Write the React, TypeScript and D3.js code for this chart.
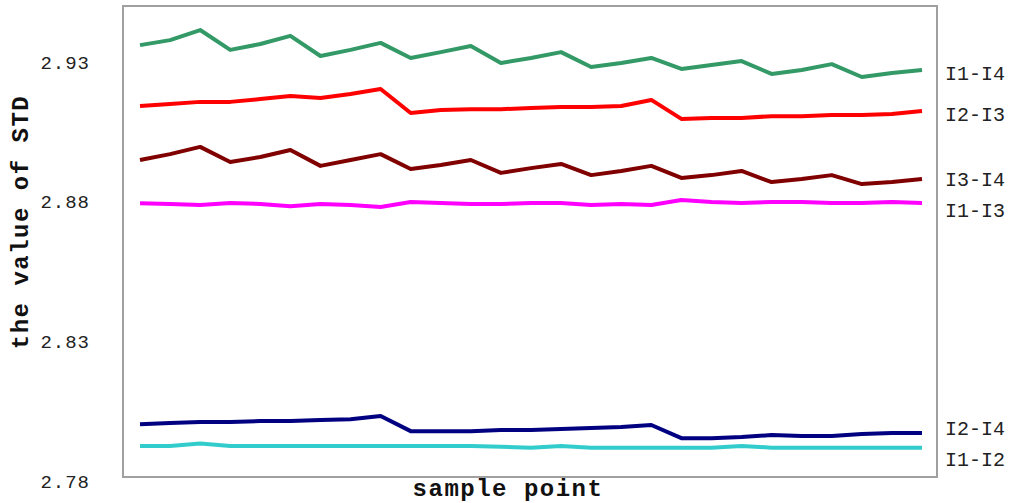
import { useEffect, useRef } from "react"
import * as d3 from "d3"

// sample points 1..27
const samples = d3.range(1, 28)

const i1i4 = [2.9360, 2.9378, 2.9414, 2.9343, 2.9364, 2.9393, 2.9321, 2.9343, 2.9368, 2.9314, 2.9335, 2.9357, 2.9296, 2.9314, 2.9335, 2.9282, 2.9296, 2.9314, 2.9275, 2.9289, 2.9303, 2.9257, 2.9271, 2.9292, 2.9246, 2.9260, 2.9271]
const i2i3 = [2.9142, 2.9149, 2.9157, 2.9157, 2.9167, 2.9178, 2.9171, 2.9185, 2.9203, 2.9117, 2.9128, 2.9131, 2.9131, 2.9135, 2.9139, 2.9139, 2.9142, 2.9164, 2.9096, 2.9099, 2.9099, 2.9106, 2.9106, 2.9110, 2.9110, 2.9114, 2.9124]
const i3i4 = [2.8949, 2.8970, 2.8996, 2.8942, 2.8960, 2.8985, 2.8928, 2.8949, 2.8970, 2.8917, 2.8931, 2.8949, 2.8903, 2.8920, 2.8935, 2.8895, 2.8910, 2.8928, 2.8885, 2.8895, 2.8910, 2.8870, 2.8881, 2.8895, 2.8863, 2.8870, 2.8881]
const i1i3 = [2.8794, 2.8792, 2.8788, 2.8795, 2.8792, 2.8784, 2.8792, 2.8788, 2.8781, 2.8799, 2.8795, 2.8792, 2.8792, 2.8795, 2.8795, 2.8788, 2.8792, 2.8788, 2.8806, 2.8799, 2.8795, 2.8799, 2.8799, 2.8795, 2.8795, 2.8799, 2.8795]
const i2i4 = [2.8004, 2.8008, 2.8012, 2.8012, 2.8015, 2.8015, 2.8019, 2.8022, 2.8033, 2.7979, 2.7979, 2.7979, 2.7983, 2.7983, 2.7987, 2.7990, 2.7994, 2.8001, 2.7954, 2.7954, 2.7958, 2.7965, 2.7962, 2.7962, 2.7969, 2.7972, 2.7972]
const i1i2 = [2.7926, 2.7926, 2.7935, 2.7926, 2.7926, 2.7926, 2.7926, 2.7926, 2.7926, 2.7926, 2.7926, 2.7926, 2.7923, 2.7920, 2.7926, 2.7920, 2.7920, 2.7920, 2.7920, 2.7920, 2.7926, 2.7920, 2.7920, 2.7920, 2.7920, 2.7920, 2.7920]

const seriesNames = ["I1-I4", "I2-I3", "I3-I4", "I1-I3", "I2-I4", "I1-I2"]
const seriesValues = [i1i4, i2i3, i3i4, i1i3, i2i4, i1i2]
const seriesColors = ["#339966", "#ff0000", "#800000", "#ff00ff", "#000080", "#33cccc"]

const yTicks = [2.78, 2.83, 2.88, 2.93]

export default function App() {
  const svgRef = useRef<SVGSVGElement>(null)

  useEffect(() => {
    if (!svgRef.current) return
    const svg = d3.select(svgRef.current)
    svg.selectAll("*").remove()

    const W = 1010
    const H = 503
    const box = { left: 123, top: 6, right: 937, bottom: 477 }

    const x = d3.scaleLinear().domain([1, 27]).range([140, 922])
    const y = d3.scaleLinear().domain([2.7815, 2.95]).range([box.bottom, box.top])

    svg.attr("width", W).attr("height", H)

    svg.append("rect")
      .attr("x", 0).attr("y", 0).attr("width", W).attr("height", H)
      .attr("fill", "#fff")

    // plot frame
    svg.append("rect")
      .attr("x", box.left)
      .attr("y", box.top)
      .attr("width", box.right - box.left)
      .attr("height", box.bottom - box.top)
      .attr("fill", "none")
      .attr("stroke", "#a0a0a0")
      .attr("stroke-width", 2)

    // y tick labels (no tick marks)
    svg.append("g")
      .selectAll("text")
      .data(yTicks)
      .enter()
      .append("text")
      .attr("x", 90)
      .attr("y", d => y(d))
      .attr("dy", "0.35em")
      .attr("text-anchor", "end")
      .attr("font-family", "Liberation Mono, monospace")
      .attr("font-size", 19)
      .attr("letter-spacing", 1)
      .attr("fill", "#222")
      .text(d => d3.format(".2f")(d))

    const line = d3.line<number>()
      .x((_, i) => x(samples[i]))
      .y(d => y(d))

    seriesValues.forEach((vals, k) => {
      svg.append("path")
        .datum(vals)
        .attr("fill", "none")
        .attr("stroke", seriesColors[k])
        .attr("stroke-width", 4)
        .attr("stroke-linejoin", "round")
        .attr("d", line)
    })

    // end labels, pushed apart so they don't collide
    const ends = seriesValues.map((v, k) => ({ name: seriesNames[k], y: y(v[v.length - 1]) }))
    const sorted = [...ends].sort((a, b) => a.y - b.y)
    const gap = 31
    for (let iter = 0; iter < 20; iter++) {
      for (let i = 1; i < sorted.length; i++) {
        const d = sorted[i].y - sorted[i - 1].y
        if (d < gap) {
          const push = (gap - d) / 2
          sorted[i - 1].y -= push
          sorted[i].y += push
        }
      }
    }

    svg.append("g")
      .selectAll("text")
      .data(ends)
      .enter()
      .append("text")
      .attr("x", 945)
      .attr("y", d => d.y + 3)
      .attr("dy", "0.35em")
      .attr("font-family", "Liberation Mono, monospace")
      .attr("font-size", 20)
      .attr("fill", "#222")
      .text(d => d.name)

    // axis titles
    svg.append("text")
      .attr("transform", `translate(28,${222}) rotate(-90)`)
      .attr("text-anchor", "middle")
      .attr("font-family", "Liberation Mono, monospace")
      .attr("font-weight", "bold")
      .attr("font-size", 24)
      .attr("letter-spacing", 1.5)
      .attr("fill", "#111")
      .text("the value of STD")

    svg.append("text")
      .attr("x", 508)
      .attr("y", 496)
      .attr("text-anchor", "middle")
      .attr("font-family", "Liberation Mono, monospace")
      .attr("font-weight", "bold")
      .attr("font-size", 24)
      .attr("letter-spacing", 1.5)
      .attr("fill", "#111")
      .text("sample point")
  }, [])

  return (
    <div style={{ position: "absolute", left: 0, top: 0 }}>
      <svg ref={svgRef} style={{ display: "block" }} />
    </div>
  )
}
